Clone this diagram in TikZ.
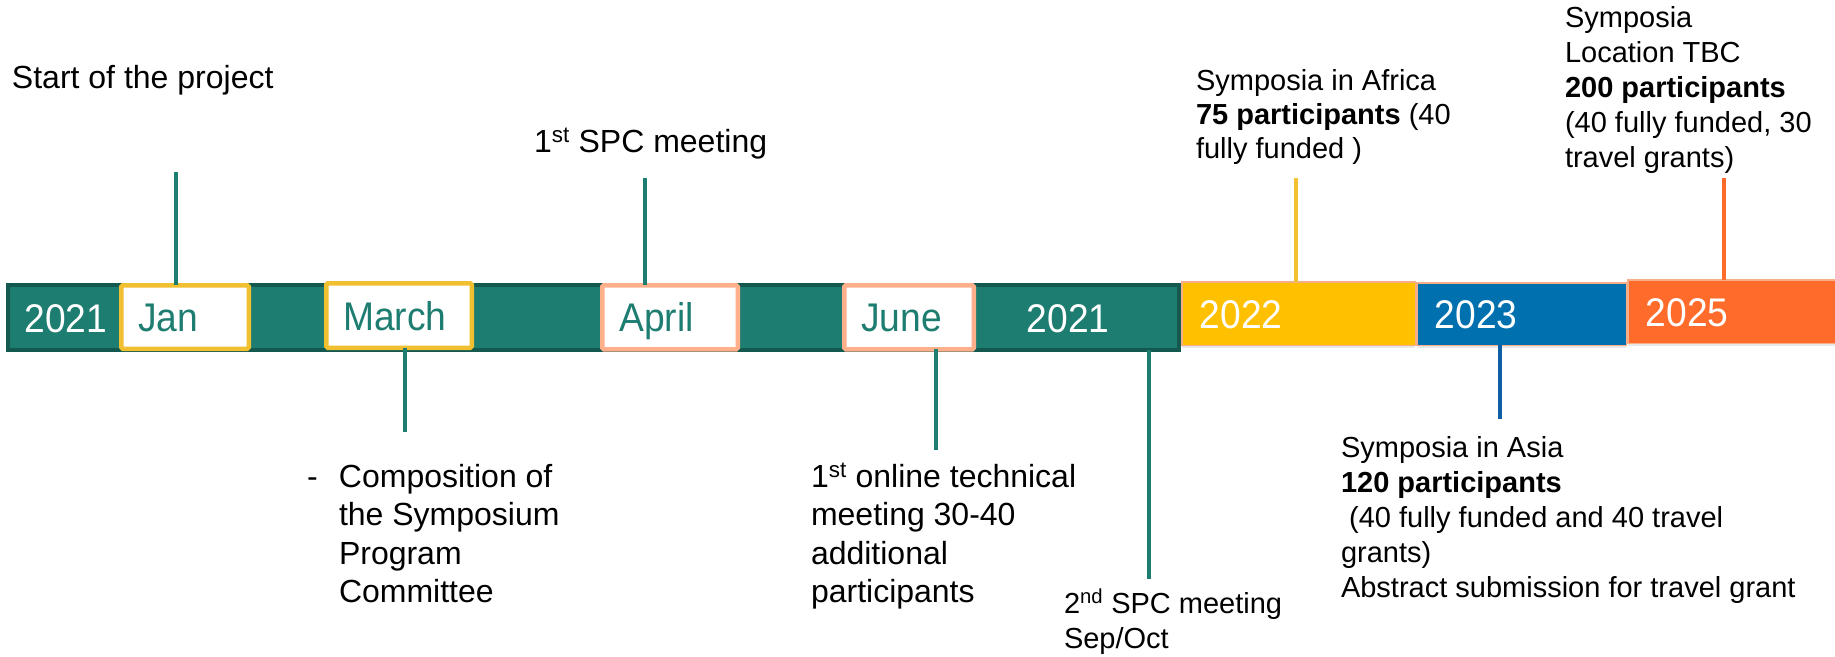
\documentclass[tikz,border=0pt]{standalone}
\usepackage{fontspec}
\setmainfont{Liberation Sans}
\newfontfamily\barfont{Liberation Sans}[FakeStretch=0.93]
\usetikzlibrary{shadows}
\definecolor{tealfill}{HTML}{1E7D71}
\definecolor{tealdark}{HTML}{14594F}
\definecolor{yedge}{HTML}{F0C030}
\definecolor{sedge}{HTML}{FFAF8A}
\definecolor{thinedge}{HTML}{F6AE88}
\definecolor{f22}{HTML}{FFC000}
\definecolor{f23}{HTML}{0070AF}
\definecolor{f25}{HTML}{FF6B2B}
\definecolor{lineyel}{HTML}{F2C232}
\definecolor{lineblue}{HTML}{0F5EA8}
\newcommand{\bt}[1]{\smash{#1}\rule{0pt}{29pt}}
\begin{document}
\begin{tikzpicture}[x=1pt,y=-1pt,
  every node/.style={inner sep=0pt, outer sep=0pt},
  monthbox/.style={draw, line width=4.5pt, fill=white, rounded corners=1.5pt,
    inner xsep=17pt, align=left, font=\barfont\fontsize{40}{48}\selectfont, text=tealfill},
  yearbox/.style={draw=thinedge, line width=1.5pt, inner xsep=18pt, align=left,
    font=\barfont\fontsize{40}{48}\selectfont, text=white,
    drop shadow={shadow xshift=0pt, shadow yshift=-3pt, opacity=0.18}},
  bartxt/.style={font=\barfont\fontsize{40}{48}\selectfont, text=white},
  conn/.style={line width=4.5pt},
  lblA/.style={font=\fontsize{32}{38.5}\selectfont, align=left, anchor=base west},
  lblB/.style={font=\fontsize{29}{35}\selectfont, align=left, anchor=base west},
]
\useasboundingbox (0,0) rectangle (1835,656);

% main 2021 bar
\node[draw=tealdark, fill=tealfill, line width=4pt, minimum width=1171pt, minimum height=65pt] (bar) at (593.5,317.5) {};
\node[bartxt] (t21a) at (66,317.5) {\bt{2021}};
\node[bartxt] (t21b) at (1068,317.5) {\bt{2021}};

% month boxes
\node[monthbox, draw=yedge, text width=93.5pt, minimum height=63.5pt] (jan) at (185,317) {\bt{Jan}};
\node[monthbox, draw=yedge, text width=111.5pt, minimum height=64.5pt] (march) at (399,315.5) {\bt{March}};
\node[monthbox, draw=sedge, text width=101.5pt, minimum height=64pt] (april) at (670,317.3) {\bt{April}};
\node[monthbox, draw=sedge, text width=95.5pt, minimum height=64pt] (june) at (909,317.3) {\bt{June}};

% year boxes
\node[yearbox, fill=f22, text width=197.5pt, minimum height=63.5pt] (y22) at (1298.5,313.5) {\bt{2022}};
\node[yearbox, fill=f23, text width=173.5pt, minimum height=62.5pt] (y23) at (1521.5,314) {\bt{2023}};
\node[yearbox, fill=f25, text width=175.5pt, minimum height=63.5pt] (y25) at (1733.5,311.5) {\bt{2025}};

% connectors
\coordinate (janTop) at (176,172);
\coordinate (aprTop) at (645,178);
\coordinate (marBot) at (405,432);
\coordinate (junBot) at (936,450);
\coordinate (sepBot) at (1149,579);
\coordinate (afrTop) at (1296,178);
\coordinate (asiaBot) at (1500,419);
\coordinate (locTop) at (1724,178);
\draw[conn, tealfill] (janTop) -- (janTop |- jan.north);
\draw[conn, tealfill] (aprTop) -- (aprTop |- april.north);
\draw[conn, tealfill] (march.south -| marBot) -- (marBot);
\draw[conn, tealfill] (june.south -| junBot) -- (junBot);
\draw[conn, tealfill] (bar.south -| sepBot) -- (sepBot);
\draw[conn, lineyel] (afrTop) -- (afrTop |- y22.north);
\draw[conn, lineblue] (y23.south -| asiaBot) -- (asiaBot);
\draw[conn, f25] (locTop) -- (locTop |- y25.north);

% labels (multi-line nodes: base anchor = last line's baseline)
\node[lblA] (start) at (12,88) {Start of the project};
\node[lblA] (spc1) at (534,152) {1\textsuperscript{st} SPC meeting};
\node[lblB, font=\fontsize{29}{34}\selectfont] (africa) at (1196,158) {Symposia in Africa\\\textbf{75 participants} (40\\fully funded )};
\node[lblB] (loc) at (1565,167) {Symposia\\Location TBC\\\textbf{200 participants}\\(40 fully funded, 30\\travel grants)};
\node[lblA] (comp) at (307,487) {\begin{tabular}[t]{@{}p{32pt}@{}l@{}}-&Composition of\\&the Symposium\\&Program\\&Committee\end{tabular}};
\node[lblA] (online) at (811,602.5) {1\textsuperscript{st} online technical\\meeting 30-40\\additional\\participants};
\node[lblB] (spc2) at (1064,648) {2\textsuperscript{nd} SPC meeting\\Sep/Oct};
\node[lblB] (asia) at (1341,597) {Symposia in Asia\\\textbf{120 participants}\\\hspace*{0.28em}(40 fully funded and 40 travel\\grants)\\Abstract submission for travel grant};
\end{tikzpicture}
\end{document}
